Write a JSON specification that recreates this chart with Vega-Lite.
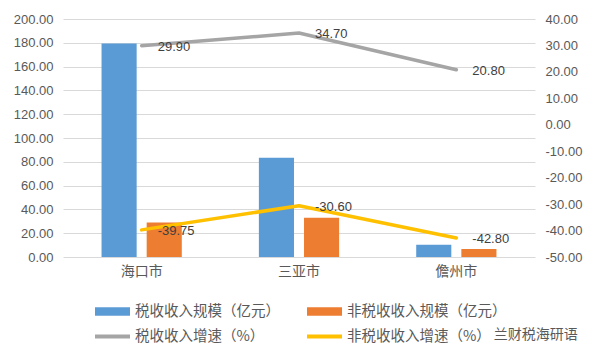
{
  "$schema": "https://vega.github.io/schema/vega-lite/v6.json",
  "width": 472,
  "height": 238,
  "autosize": {"type": "none"},
  "padding": {"left": 63, "top": 19, "right": 62, "bottom": 102},
  "background": "white",
  "title": {"text": "兰财税海研语", "orient": "bottom", "anchor": "end", "dx": -4, "dy": -15, "offset": 0, "fontSize": 14, "fontWeight": "normal", "color": "#595959", "font": "Noto Sans CJK SC"},
  "config": {
    "view": {"stroke": null},
    "font": "Noto Sans CJK SC",
    "locale": {"number": {"decimal": ".", "thousands": ",", "grouping": [3], "currency": ["", ""], "minus": "-"}},
    "axis": {"labelFont": "Liberation Sans", "labelColor": "#595959", "labelFontSize": 13, "domain": false, "ticks": false}
  },
  "data": {
    "values": [
      {"city": "海口市", "series": "税收收入规模（亿元）", "kind": "规模", "value": 179.5},
      {"city": "海口市", "series": "非税收收入规模（亿元）", "kind": "规模", "value": 29.0},
      {"city": "三亚市", "series": "税收收入规模（亿元）", "kind": "规模", "value": 83.5},
      {"city": "三亚市", "series": "非税收收入规模（亿元）", "kind": "规模", "value": 33.0},
      {"city": "儋州市", "series": "税收收入规模（亿元）", "kind": "规模", "value": 10.2},
      {"city": "儋州市", "series": "非税收收入规模（亿元）", "kind": "规模", "value": 6.8},
      {"city": "海口市", "series": "税收收入增速（%）", "kind": "增速", "value": 29.9},
      {"city": "三亚市", "series": "税收收入增速（%）", "kind": "增速", "value": 34.7},
      {"city": "儋州市", "series": "税收收入增速（%）", "kind": "增速", "value": 20.8},
      {"city": "海口市", "series": "非税收收入增速（%）", "kind": "增速", "value": -39.75},
      {"city": "三亚市", "series": "非税收收入增速（%）", "kind": "增速", "value": -30.6},
      {"city": "儋州市", "series": "非税收收入增速（%）", "kind": "增速", "value": -42.8}
    ]
  },
  "encoding": {
    "x": {
      "field": "city", "type": "nominal", "sort": ["海口市", "三亚市", "儋州市"],
      "scale": {"paddingInner": 0.49, "paddingOuter": 0.245},
      "axis": {"title": null, "labelAngle": 0, "labelFont": "Noto Sans CJK SC", "labelFontSize": 14, "labelPadding": 7, "grid": false}
    },
    "color": {
      "field": "series", "type": "nominal",
      "scale": {
        "domain": ["税收收入规模（亿元）", "非税收收入规模（亿元）", "税收收入增速（%）", "非税收收入增速（%）"],
        "range": ["#5b9bd5", "#ed7d31", "#a5a5a5", "#ffc000"]
      },
      "legend": {
        "title": null, "orient": "none", "legendX": 32, "legendY": 275, "direction": "horizontal", "columns": 2,
        "columnPadding": 27, "rowPadding": 1,
        "labelFont": "Noto Sans CJK SC", "labelFontSize": 14.5, "labelColor": "#595959", "labelOffset": 5,
        "symbolSize": 1225, "symbolStrokeWidth": 0,
        "encode": {
          "symbols": {
            "update": {
              "shape": {"signal": "indexof(datum.value, '增速') >= 0 ? 'M-1,-0.11H1V0.11H-1Z' : 'M-1,-0.24H1V0.24H-1Z'"},
              "fill": {"scale": "color", "field": "value"},
              "strokeWidth": {"value": 0},
              "opacity": {"value": 1}
            }
          }
        }
      }
    }
  },
  "layer": [
    {
      "transform": [{"filter": "datum.kind === '规模'"}],
      "mark": {"type": "bar"},
      "encoding": {
        "xOffset": {"field": "series", "type": "nominal", "sort": ["税收收入规模（亿元）", "非税收收入规模（亿元）"], "scale": {"paddingInner": 0.222}},
        "y": {
          "field": "value", "type": "quantitative",
          "scale": {"domain": [0, 200], "nice": false},
          "axis": {"title": null, "values": [0, 20, 40, 60, 80, 100, 120, 140, 160, 180, 200], "format": ".2f", "labelPadding": 10, "gridColor": "#d9d9d9", "gridWidth": 1}
        }
      }
    },
    {
      "transform": [{"filter": "datum.kind === '增速'"}],
      "encoding": {
        "y": {
          "field": "value", "type": "quantitative",
          "scale": {"domain": [-50, 40], "nice": false, "zero": false},
          "axis": {"title": null, "orient": "right", "grid": false, "values": [-50, -40, -30, -20, -10, 0, 10, 20, 30, 40], "format": ".2f", "labelPadding": 10}
        }
      },
      "layer": [
        {"mark": {"type": "line", "strokeWidth": 3.5, "strokeCap": "round", "strokeJoin": "round"}},
        {
          "mark": {"type": "text", "align": "left", "baseline": "middle", "dx": 16, "dy": 1, "fontSize": 13, "font": "Liberation Sans"},
          "encoding": {"text": {"field": "value", "type": "quantitative", "format": ".2f"}, "color": {"value": "#404040"}}
        }
      ]
    }
  ],
  "resolve": {"scale": {"y": "independent"}}
}
